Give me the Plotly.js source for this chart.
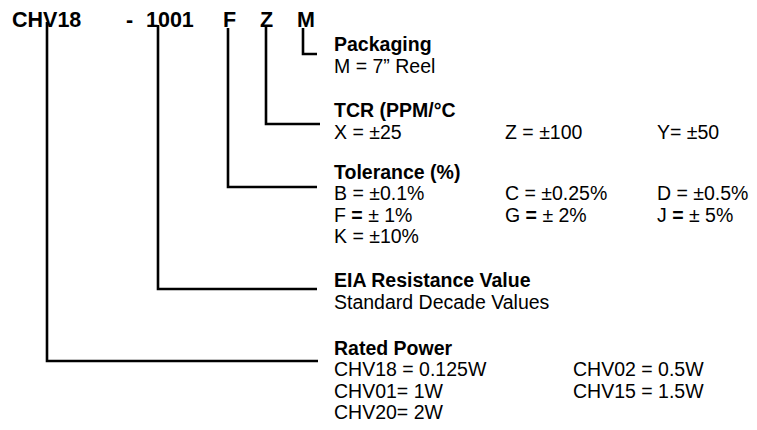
<!DOCTYPE html>
<html>
<head>
<meta charset="utf-8">
<script src="https://cdn.plot.ly/plotly-3.0.1.min.js"></script>
<style>html,body{margin:0;padding:0;background:#fff;}#chart{width:757px;height:430px;}</style>
</head>
<body>
<div id="chart"></div>
<script>
// Part-number code segments
var codeParts = ["CHV18", "-", "1001", "F", "Z", "M"];
var codeX = [10, 124, 144, 221, 258, 295];

// Section titles (one per code segment, top to bottom)
var sectionTitles = ["Packaging", "TCR (PPM/°C", "Tolerance (%)", "EIA Resistance Value", "Rated Power"];
var packagingRows = [["M = 7” Reel"]];
var tcrRows = [["X = ±25", "Z = ±100", "Y= ±50"]];
var toleranceRows = [["B = ±0.1%", "C = ±0.25%", "D = ±0.5%"],
                     ["F <b>=</b> ± 1%", "G <b>=</b> ± 2%", "J <b>=</b> ± 5%"],
                     ["K = ±10%"]];
var eiaRows = [["Standard Decade Values"]];
var powerRows = [["CHV18 = 0.125W", "CHV02 = 0.5W"],
                 ["CHV01= 1W", "CHV15 = 1.5W"],
                 ["CHV20= 2W"]];
var sectionRows = [packagingRows, tcrRows, toleranceRows, eiaRows, powerRows];

// Layout positions
var titleBaseline = [50.7, 116.7, 178.3, 286.7, 354];
var rowGap = 21.5;
var textLeft = 332;
var colX3 = [332, 503, 655];
var colX2 = [332, 571];

// Connector paths (code letter -> section)
var connM = {x: [303, 303, 317], y: [28, 54, 54]};
var connZ = {x: [266, 266, 320], y: [25, 124, 124]};
var connF = {x: [228, 228, 317], y: [28, 187, 187]};
var conn1001 = {x: [158, 158, 317], y: [25, 289, 289]};
var connCHV = {x: [47, 47, 318], y: [22, 361, 361]};
var connectors = [connM, connZ, connF, conn1001, connCHV];

var FONT = "Liberation Sans, Arial, sans-serif";
var codeSize = 21.5, titleSize = 19.5, bodySize = 19.5;

var traces = connectors.map(function (c) {
  return {x: c.x, y: c.y, mode: "lines", type: "scatter", hoverinfo: "skip",
          line: {color: "#000", width: 2.6, shape: "linear"}, showlegend: false};
});

function midFromBaseline(b, size) { return b - 0.33 * size; }

var annotations = [];
codeParts.forEach(function (t, i) {
  annotations.push({x: codeX[i], y: midFromBaseline(27, codeSize), text: "<b>" + t + "</b>",
    xanchor: "left", yanchor: "middle", showarrow: false,
    font: {family: FONT, size: codeSize, color: "#000"}});
});
sectionTitles.forEach(function (t, i) {
  annotations.push({x: textLeft, y: midFromBaseline(titleBaseline[i], titleSize), text: "<b>" + t + "</b>",
    xanchor: "left", yanchor: "middle", showarrow: false,
    font: {family: FONT, size: titleSize, color: "#000"}});
  sectionRows[i].forEach(function (row, r) {
    var cols = (i === 4) ? colX2 : colX3;
    row.forEach(function (cell, c) {
      annotations.push({x: cols[c], y: midFromBaseline(titleBaseline[i] + rowGap * (r + 1), bodySize),
        text: cell, xanchor: "left", yanchor: "middle", showarrow: false,
        font: {family: FONT, size: bodySize, color: "#000"}});
    });
  });
});

var layout = {
  width: 757, height: 430,
  margin: {l: 0, r: 0, t: 0, b: 0},
  paper_bgcolor: "#fff", plot_bgcolor: "#fff",
  xaxis: {range: [0, 757], visible: false, fixedrange: true},
  yaxis: {range: [430, 0], visible: false, fixedrange: true},
  annotations: annotations,
  showlegend: false
};
Plotly.newPlot("chart", traces, layout, {staticPlot: true, displayModeBar: false});
</script>
</body>
</html>
